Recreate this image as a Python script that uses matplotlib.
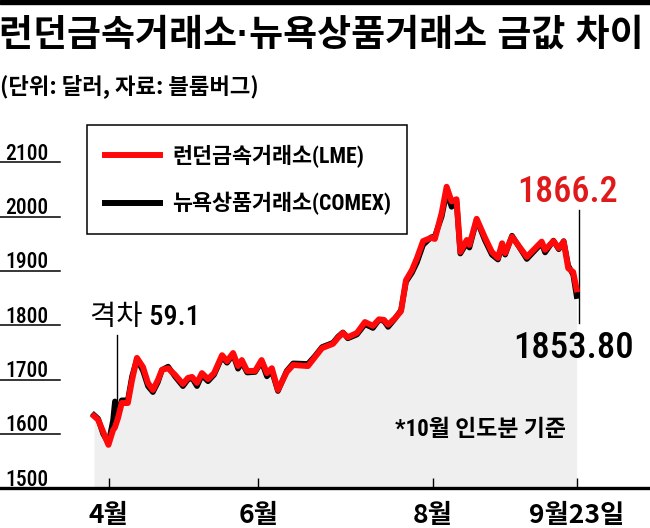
import matplotlib
matplotlib.use('Agg')
import matplotlib.pyplot as plt
from matplotlib import font_manager as fm
from matplotlib.patches import Rectangle
from matplotlib.transforms import blended_transform_factory

# ---------------- data ----------------
title = '런던금속거래소·뉴욕상품거래소 금값 차이'
subtitle = '(단위: 달러, 자료: 블룸버그)'
series_names = ['런던금속거래소(LME)', '뉴욕상품거래소(COMEX)']
note = '*10월 인도분 기준'

# trading-day index
day = [0.0, 1.1, 2.4, 3.8, 5.0, 5.5, 6.3, 7.3, 8.9, 10.0, 11.3, 12.9, 14.2, 15.5,
       16.8, 17.9, 19.5, 21.3, 23.4, 24.7, 25.8, 27.1, 28.4, 30.0, 31.6, 33.7,
       35.0, 36.6, 37.9, 38.9, 40.3, 42.4, 44.1, 45.5, 46.8, 48.4, 50.7, 52.4,
       56.3, 58.2, 60.0, 62.9, 64.2, 65.5, 66.8, 69.2, 71.3, 73.4, 75.0, 76.3,
       77.4, 79.2, 80.8, 82.1, 83.7, 85.0, 86.6, 88.7, 89.7, 91.5, 92.8, 94.1,
       95.4, 96.4, 98.1, 98.8, 100.7, 102.9, 104.7, 106.3, 107.4, 108.2, 110.0,
       113.9, 117.8, 118.7, 120.9, 122.3, 123.6, 124.8, 126.1, 127.0]

lme = [1633, 1626, 1604, 1580, 1607, 1612, 1629, 1657, 1657, 1699, 1740, 1723, 1694, 1681,
       1699, 1718, 1721, 1709, 1692, 1703, 1705, 1694, 1712, 1701, 1712, 1745,
       1734, 1749, 1725, 1736, 1716, 1716, 1736, 1712, 1721, 1681, 1714, 1727,
       1725, 1742, 1758, 1766, 1777, 1786, 1778, 1786, 1806, 1799, 1811, 1810,
       1801, 1813, 1826, 1883, 1902, 1924, 1955, 1961, 1959, 2007, 2055, 2028,
       2032, 1935, 1957, 1948, 1996, 1961, 1935, 1924, 1951, 1933, 1963,
       1926, 1954, 1939, 1955, 1942, 1954, 1905, 1898, 1866.2]

comex = [1635, 1628, 1600, 1583, 1625, 1660, 1640, 1662, 1662, 1706, 1738, 1716, 1688, 1677,
         1695, 1718, 1724, 1706, 1688, 1700, 1703, 1688, 1708, 1697, 1709, 1742,
         1731, 1746, 1720, 1732, 1713, 1714, 1733, 1706, 1716, 1679, 1716, 1730,
         1729, 1744, 1760, 1768, 1779, 1787, 1776, 1783, 1802, 1795, 1810, 1808,
         1797, 1812, 1828, 1880, 1897, 1916, 1948, 1962, 1964, 2000, 2045, 2018,
         2028, 1932, 1952, 1943, 1994, 1956, 1930, 1921, 1947, 1930, 1965,
         1922, 1951, 1934, 1956, 1940, 1955, 1910, 1893, 1853.8]

y_ticks = [1500, 1600, 1700, 1800, 1900, 2000, 2100]
x_tick_days = [3.9, 43.2, 89.2, 127.0]
x_tick_labels = ['4월', '6월', '8월', '9월23일']

gap_label = '격차 59.1'
gap_day = 6.0
lme_end_label = '1866.2'
comex_end_label = '1853.80'

# ---------------- fonts ----------------
KR = ['Noto Sans CJK KR']
narrow_name, narrow_stretch = 'Liberation Sans', 'normal'
_prio = ['Roboto Condensed', 'Liberation Sans Narrow', 'DejaVu Sans', 'Noto Sans',
         'Open Sans']
_cands = [f for f in fm.fontManager.ttflist
          if (str(f.stretch) in ('condensed', 'semi-condensed', 'extra-condensed')
              or 'Narrow' in f.name or 'Condensed' in f.name)]
for p in _prio:
    hit = [f for f in _cands if f.name == p]
    if hit:
        narrow_name, narrow_stretch = hit[0].name, hit[0].stretch
        break
NUM = [narrow_name, 'Noto Sans CJK KR']

# ---------------- styling ----------------
W, H = 650, 528
RED = '#ff0a0a'
RED_TXT = '#e01a1a'

fig = plt.figure(figsize=(W / 100, H / 100), dpi=100)


def fx(x):
    return x / W


def fy(y):
    return 1 - y / H


def num_text(obj, *args, **kw):
    kw.setdefault('family', NUM)
    kw.setdefault('fontstretch', narrow_stretch)
    return obj.text(*args, **kw)


# top bar
fig.patches.append(Rectangle((0, fy(4)), 1, 4 / H, transform=fig.transFigure,
                             color='black', zorder=5))
fig.text(fx(-1), fy(36), title, ha='left', va='center', fontsize=26.6,
         fontweight='heavy', family=['Liberation Sans', 'Noto Sans CJK KR'],
         color='black')
fig.text(fx(0), fy(86), subtitle, ha='left', va='center', fontsize=16,
         fontweight='bold', family=KR, color='black')

# axes geometry (pixel based)
y_bottom_px, y_top_px = 488.3, 150
px_per_unit = 54.33 / 100
x0_px, px_per_day = 94, 3.8
ax = fig.add_axes([0, 1 - y_bottom_px / H, 1, (y_bottom_px - y_top_px) / H])
ax.set_ylim(1500, 1500 + (y_bottom_px - y_top_px) / px_per_unit)
ax.set_xlim(-x0_px / px_per_day, (W - x0_px) / px_per_day)
ax.patch.set_alpha(0)
for s in ['top', 'left', 'right']:
    ax.spines[s].set_visible(False)
ax.spines['bottom'].set_linewidth(2.4)
ax.spines['bottom'].set_zorder(6)
ax.set_yticks([])

ax.set_xticks(x_tick_days)
ax.set_xticklabels(x_tick_labels, family=KR, fontsize=19, fontweight='bold')
ax.tick_params(axis='x', direction='in', length=7, width=1, pad=10, colors='black')

blend = blended_transform_factory(ax.transAxes, ax.transData)
for v in y_ticks:
    ax.plot([0, 60 / W], [v, v], transform=blend, color='black', lw=1.1,
            clip_on=False, zorder=3)
    num_text(ax, 5 / W, v + 2.5 / px_per_unit, str(v), transform=blend, ha='left',
             va='baseline', fontsize=15.5, fontweight='medium', color='black')

# area + lines
ax.fill_between(day, 1500, comex, color='#efefef', lw=0, zorder=1)
ax.plot(day, comex, color='black', lw=4.0, zorder=3, solid_joinstyle='round')
ax.plot(day, lme, color=RED, lw=4.3, zorder=4, solid_joinstyle='round')

# gap annotation
ax.plot([gap_day, gap_day], [1631, 1782], color='black', lw=1, zorder=2)
num_text(ax, day[0] - 1, 1500 + (488.3 - 325) / px_per_unit, gap_label, ha='left',
         va='baseline', fontsize=20.5, fontweight='medium', color='black')

# end annotations
end_x = day[-1] + 0.5
ax.plot([end_x, end_x], [1500 + (488.3 - 210) / px_per_unit,
                         1500 + (488.3 - 323) / px_per_unit],
        color='black', lw=1, zorder=2)
num_text(ax, end_x - 3, 1500 + (488.3 - 202) / px_per_unit, lme_end_label,
         ha='center', va='baseline', fontsize=26, fontweight='medium', color=RED_TXT)
num_text(ax, end_x - 1.3, 1500 + (488.3 - 358) / px_per_unit, comex_end_label,
         ha='center', va='baseline', fontsize=26.5, fontweight='medium', color='black')

# note
xl = ax.get_xlim()
num_text(ax, xl[0] + 395 / W * (xl[1] - xl[0]),
         1500 + (488.3 - 430) / px_per_unit, note, ha='left', va='center',
         fontsize=16.5, fontweight='bold', color='black', zorder=5)

# legend box (figure coords)
fig.patches.append(Rectangle((fx(87), fy(234)), fx(407) - fx(87), (234 - 125) / H,
                             transform=fig.transFigure, fill=False,
                             edgecolor='black', lw=1.1, zorder=5))
fig.add_artist(plt.Line2D([fx(105), fx(160)], [fy(155), fy(155)], color=RED,
                          lw=4.3, transform=fig.transFigure, zorder=6))
fig.add_artist(plt.Line2D([fx(105), fx(160)], [fy(203), fy(203)], color='black',
                          lw=4.3, transform=fig.transFigure, zorder=6))
num_text(fig, fx(172), fy(156), series_names[0], ha='left', va='center',
         fontsize=15.7, fontweight='bold', color='black')
num_text(fig, fx(172), fy(203), series_names[1], ha='left', va='center',
         fontsize=15.7, fontweight='bold', color='black')

fig.savefig('out.png', dpi=100)
